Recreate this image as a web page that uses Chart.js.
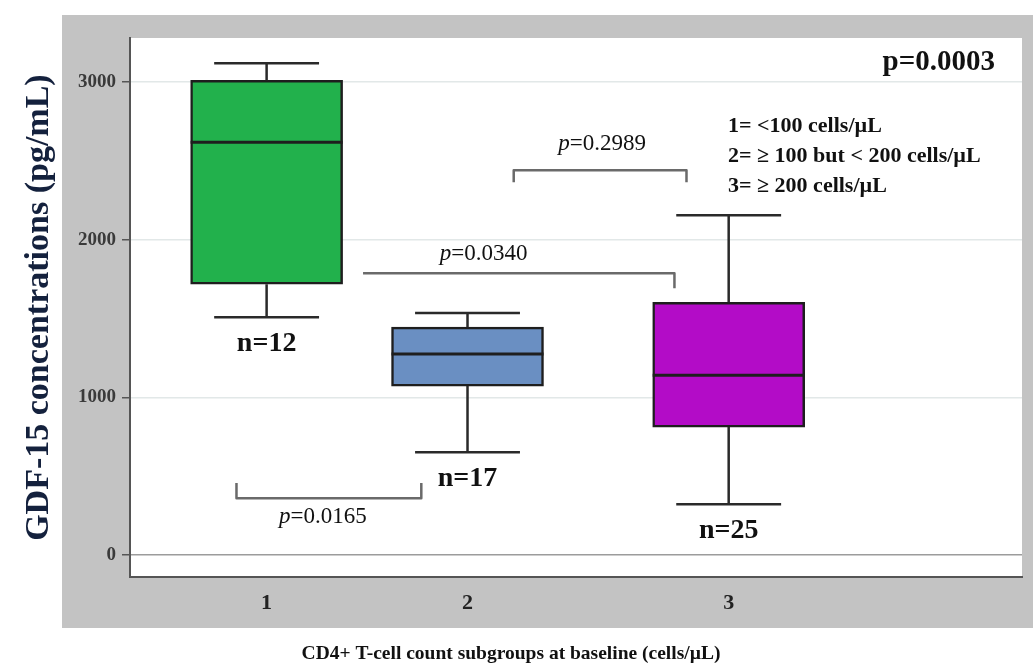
<!DOCTYPE html>
<html>
<head>
<meta charset="utf-8">
<script src="https://cdn.jsdelivr.net/npm/chart.js@4.4.0/dist/chart.umd.min.js"></script>
<style>
html,body{margin:0;padding:0;background:#fff;}
canvas{display:block;}
</style>
</head>
<body>
<canvas id="gdf" width="1033" height="668"></canvas>
<script>
'use strict'
// box plot values (pg/mL)
let groups=['1','2','3']
let groupPos=[1,2,3.3]
let whiskerLow=[1509,653,323]
let q1=[1718,1072,812]
let median=[2619,1275,1141]
let q3=[3012,1446,1604]
let whiskerHigh=[3120,1535,2156]
let counts=[12,17,25]
let yTicks=[0,1000,2000,3000]

// pairwise comparisons
let pValues=['0.0165','0.0340','0.2989']
let pairFrom=[0.85,1.48,2.23]
let pairTo=[1.77,3.03,3.09]
let pairY=[361,1788,2441]
let tipLeft=[457,1788,2365]
let tipRight=[457,1693,2365]
let pLabelX=[1.28,2.08,2.67]
let pLabelY=[203,1871,2568]

let overallP='p=0.0003'
let groupKey=['1= <100 cells/µL','2= ≥ 100 but < 200 cells/µL','3= ≥ 200 cells/µL']
let boxColors=['#22b14c','#6a8fc2','#b30cc7']

let serif="'Liberation Serif','Times New Roman',serif"

let frame={
  id:'frame',
  beforeDraw(chart){
    let c=chart.ctx, a=chart.chartArea
    c.save()
    c.fillStyle='#fff'
    c.fillRect(0,0,chart.width,chart.height)
    c.fillStyle='#c3c3c3'
    c.fillRect(62,15,chart.width-62,613)
    c.fillStyle='#fff'
    c.fillRect(a.left,a.top,a.right-a.left,a.bottom-a.top)
    c.restore()
  }
}

let boxParts={
  id:'boxParts',
  afterDatasetsDraw(chart){
    let c=chart.ctx, a=chart.chartArea
    let xs=chart.scales.x, ys=chart.scales.y
    let bars=chart.getDatasetMeta(0).data
    c.save()
    for(let i=0;i<groups.length;i++){
      let x=xs.getPixelForValue(groupPos[i])
      let half=bars[i].width/2
      let cap=half*0.69
      let hi=ys.getPixelForValue(whiskerHigh[i])
      let lo=ys.getPixelForValue(whiskerLow[i])
      c.strokeStyle='#2a2a2a'
      c.lineWidth=2.5
      c.beginPath()
      c.moveTo(x,ys.getPixelForValue(q3[i])); c.lineTo(x,hi)
      c.moveTo(x-cap,hi); c.lineTo(x+cap,hi)
      c.moveTo(x,ys.getPixelForValue(q1[i])); c.lineTo(x,lo)
      c.moveTo(x-cap,lo); c.lineTo(x+cap,lo)
      c.stroke()
      c.strokeStyle='#1e1e1e'
      c.lineWidth=3
      c.beginPath()
      let m=ys.getPixelForValue(median[i])
      c.moveTo(x-half,m); c.lineTo(x+half,m)
      c.stroke()
      c.fillStyle='#111'
      c.font='bold 28px '+serif
      c.textAlign='center'
      c.textBaseline='alphabetic'
      c.fillText('n='+counts[i],x,lo+34)
    }
    // comparison brackets
    c.strokeStyle='#6a6a6a'
    c.lineWidth=2.5
    c.lineJoin='round'
    for(let i=0;i<pValues.length;i++){
      let x1=xs.getPixelForValue(pairFrom[i]), x2=xs.getPixelForValue(pairTo[i])
      c.beginPath()
      c.moveTo(x1,ys.getPixelForValue(tipLeft[i]))
      c.lineTo(x1,ys.getPixelForValue(pairY[i]))
      c.lineTo(x2,ys.getPixelForValue(pairY[i]))
      c.lineTo(x2,ys.getPixelForValue(tipRight[i]))
      c.stroke()
      let cx=xs.getPixelForValue(pLabelX[i]), cy=ys.getPixelForValue(pLabelY[i])
      c.font='italic 23px '+serif
      let wp=c.measureText('p').width
      c.font='23px '+serif
      let rest='='+pValues[i]
      let wr=c.measureText(rest).width
      let sx=cx-(wp+wr)/2
      c.fillStyle='#111'
      c.textAlign='left'
      c.font='italic 23px '+serif
      c.fillText('p',sx,cy)
      c.font='23px '+serif
      c.fillText(rest,sx+wp,cy)
    }
    // overall p and group key
    c.fillStyle='#111'
    c.textAlign='right'
    c.font='bold 29px '+serif
    c.fillText(overallP,a.right-27,a.top+32)
    c.textAlign='left'
    c.font='bold 22px '+serif
    for(let i=0;i<groupKey.length;i++){
      c.fillText(groupKey[i],a.right-294,a.top+94+i*30)
    }
    c.restore()
  }
}

new Chart(document.getElementById('gdf'),{
  type:'bar',
  data:{
    datasets:[{
      data:groupPos.map((x,i)=>({x:x,y:[q1[i],q3[i]]})),
      backgroundColor:boxColors,
      borderColor:'#1e1e1e',
      borderWidth:2.5,
      borderSkipped:false,
      barThickness:152
    }]
  },
  options:{
    responsive:false,
    animation:false,
    devicePixelRatio:1,
    layout:{padding:{top:38,right:11,left:0,bottom:0}},
    plugins:{
      legend:{display:false},
      tooltip:{enabled:false},
      title:{
        display:true,
        position:'bottom',
        text:'CD4+ T-cell count subgroups at baseline (cells/µL)',
        color:'#111',
        font:{family:serif,size:19.5,weight:'bold'},
        padding:{top:5,bottom:2}
      }
    },
    scales:{
      x:{
        type:'linear',
        offset:false,
        min:0.32,
        max:4.76,
        afterBuildTicks(s){s.ticks=groupPos.map(v=>({value:v}))},
        ticks:{
          callback:(v,i)=>groups[i],
          color:'#222',
          padding:13,
          font:{family:serif,size:22,weight:'bold'}
        },
        grid:{display:false,drawTicks:false,offset:false},
        border:{display:true,color:'#555',width:2},
        afterFit(s){s.height=60.4}
      },
      y:{
        min:-140,
        max:3280,
        afterBuildTicks(s){s.ticks=yTicks.map(v=>({value:v}))},
        ticks:{
          callback:v=>String(v),
          color:'#3a3a3a',
          padding:6,
          font:{family:serif,size:19,weight:'bold'}
        },
        grid:{
          color:c=>c.tick&&c.tick.value===0?'#9c9c9c':'#e2e8e8',
          lineWidth:1.5,
          drawTicks:true,
          tickLength:8,
          tickColor:'#555'
        },
        border:{display:true,color:'#555',width:2},
        title:{
          display:true,
          text:'GDF-15 concentrations (pg/mL)',
          color:'#14213d',
          font:{family:serif,size:34,weight:'bold'},
          padding:{top:19,bottom:0}
        },
        afterFit(s){s.width=130}
      }
    }
  },
  plugins:[frame,boxParts]
})
</script>
</body>
</html>
